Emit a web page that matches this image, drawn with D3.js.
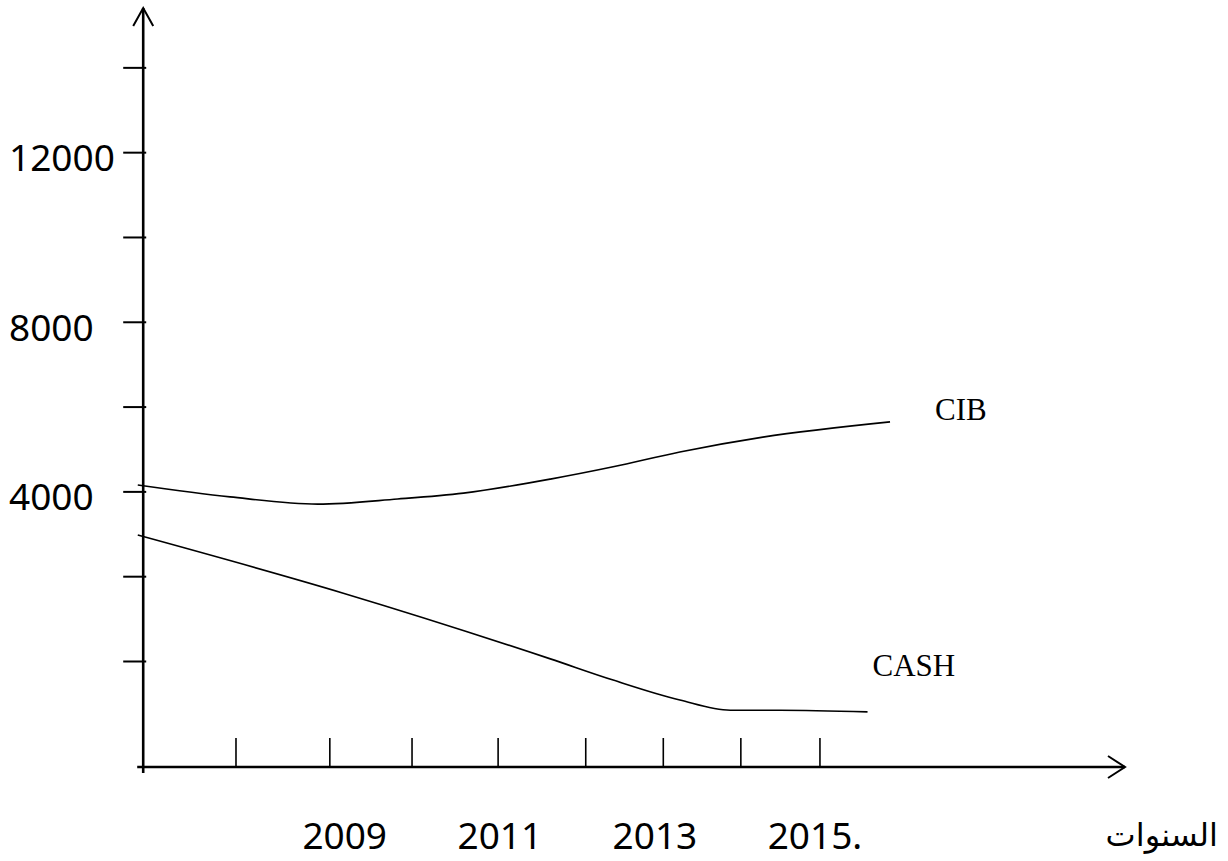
<!DOCTYPE html>
<html>
<head>
<meta charset="utf-8">
<script src="https://cdn.jsdelivr.net/npm/d3@7"></script>
<style>
   body { margin: 0; background: white; }
   svg { display: block; }
</style>
</head>
<body>
<div id="chart"></div>
<script>
// Values (x in years, y in units)
let cibYears = [2006.31, 2007.50, 2008.63, 2009.66, 2010.51, 2011.63, 2012.44, 2013.30, 2014.37, 2016.01]
let cibValues = [4150, 3870, 3700, 3820, 3960, 4290, 4580, 4930, 5280, 5640]

let cashYears = [2006.31, 2008.96, 2011.63, 2012.44, 2013.30, 2013.95, 2014.59, 2015.72]
let cashValues = [2970, 1600, 50, -450, -920, -1160, -1160, -1200]

// Tick marks as drawn (not evenly spaced in the sketch)
let xTicks = [2007.57, 2008.78, 2009.84, 2010.95, 2012.08, 2013.08, 2014.08, 2015.10]
let xLabels = ["2009", "2011", "2013", "2015."]
let xLabelYears = [2009, 2011, 2013, 2015]

let yTicks = [0, 2000, 4000, 6000, 8000, 10000, 12000, 14000]
let yLabels = [12000, 8000, 4000]

let xAxisTitle = "السنوات"

// Axis extents
let xOrigin = 2006.38
let xStart = 2006.3
let xEnd = 2019.04
let yFloor = -2500
let yTop = 15400

let width = 1228
let height = 861

let x = d3.scaleLinear().domain([xStart, xEnd]).range([137, 1125])
let y = d3.scaleLinear().domain([yFloor, yTop]).range([767, 8])

let svg = d3.select("#chart").append("svg")
   .attr("width", width)
   .attr("height", height)

let x0 = x(xOrigin)
let y0 = y(yFloor)

// Tick marks via d3 axes, domain paths drawn by hand below
let yAxis = svg.append("g")
   .attr("transform", "translate(" + (x0 + 3) + ",0)")
   .call(d3.axisLeft(y).tickValues(yTicks).tickSize(23).tickFormat(""))
yAxis.select(".domain").remove()
yAxis.selectAll(".tick line").attr("stroke", "black").attr("stroke-width", 2)

let xAxis = svg.append("g")
   .attr("transform", "translate(0," + y0 + ")")
   .call(d3.axisBottom(x).tickValues(xTicks).tickSize(-29).tickFormat(""))
xAxis.select(".domain").remove()
xAxis.selectAll(".tick line").attr("stroke", "black").attr("stroke-width", 1.6)

// Axis lines with open arrowheads
svg.append("line")
   .attr("x1", x0).attr("y1", y0 + 6)
   .attr("x2", x0).attr("y2", y(yTop))
   .attr("stroke", "black").attr("stroke-width", 2.6)

svg.append("polyline")
   .attr("points", [[x0 - 10, y(yTop) + 18], [x0, y(yTop)], [x0 + 10, y(yTop) + 18]].join(" "))
   .attr("fill", "none").attr("stroke", "black").attr("stroke-width", 2)

svg.append("line")
   .attr("x1", x0 - 6).attr("y1", y0)
   .attr("x2", x(xEnd)).attr("y2", y0)
   .attr("stroke", "black").attr("stroke-width", 2.6)

svg.append("polyline")
   .attr("points", [[x(xEnd) - 17, y0 - 11], [x(xEnd), y0], [x(xEnd) - 17, y0 + 11]].join(" "))
   .attr("fill", "none").attr("stroke", "black").attr("stroke-width", 2)

// Y labels, left aligned in the sketch
svg.selectAll("text.ylabel").data(yLabels).enter().append("text")
   .attr("class", "ylabel")
   .attr("x", 9)
   .attr("y", function(d) { return y(d) + 19 })
   .attr("font-family", "'Noto Sans', sans-serif")
   .attr("font-size", 37)
   .attr("fill", "black")
   .text(function(d) { return d })

// X labels
svg.selectAll("text.xlabel").data(xLabels).enter().append("text")
   .attr("class", "xlabel")
   .attr("x", function(d, i) { return x(xLabelYears[i]) - 44 })
   .attr("y", 849)
   .attr("font-family", "'Noto Sans', sans-serif")
   .attr("font-size", 37)
   .attr("fill", "black")
   .text(function(d) { return d })

svg.append("text")
   .attr("x", 1218)
   .attr("y", 846)
   .attr("text-anchor", "end")
   .attr("font-family", "'DejaVu Sans', sans-serif")
   .attr("font-size", 32)
   .attr("fill", "black")
   .text(xAxisTitle)

// Series curves
let series = [
   { name: "CIB", years: cibYears, values: cibValues, dx: 45, dy: -2 },
   { name: "CASH", years: cashYears, values: cashValues, dx: 5, dy: -36 }
]

let line = d3.line()
   .x(function(d) { return x(d[0]) })
   .y(function(d) { return y(d[1]) })
   .curve(d3.curveMonotoneX)

series.forEach(function(s) {
   let pts = s.years.map(function(yr, i) { return [yr, s.values[i]] })

   svg.append("path")
      .datum(pts)
      .attr("d", line)
      .attr("fill", "none")
      .attr("stroke", "black")
      .attr("stroke-width", 1.6)

   let last = pts[pts.length - 1]
   svg.append("text")
      .attr("x", x(last[0]) + s.dx)
      .attr("y", y(last[1]) + s.dy)
      .attr("font-family", "'Liberation Serif', serif")
      .attr("font-size", 31)
      .attr("fill", "black")
      .text(s.name)
})
</script>
</body>
</html>
